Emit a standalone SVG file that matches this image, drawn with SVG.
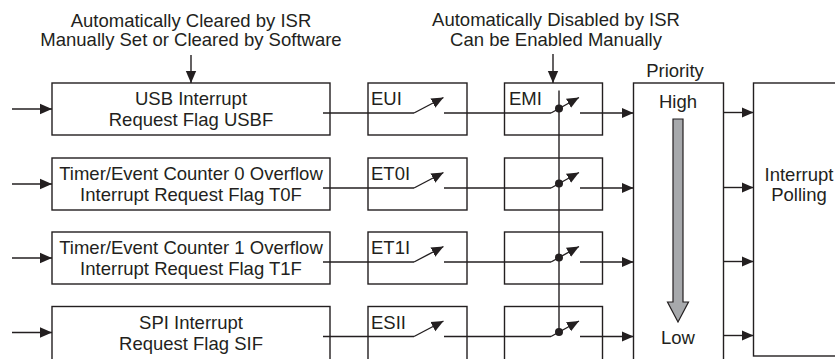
<svg xmlns="http://www.w3.org/2000/svg" width="835" height="359" viewBox="0 0 835 359">
<defs>
<marker id="ah" viewBox="0 0 12 12" refX="12" refY="6" markerWidth="12" markerHeight="12" markerUnits="userSpaceOnUse" orient="auto">
<path d="M0,0.8 L12,6 L0,11.2 Z" fill="#231f20"/>
</marker>
<style>
.b{fill:#fff;stroke:#231f20;stroke-width:1.4}
.l{fill:none;stroke:#231f20;stroke-width:1.4}
.a{fill:none;stroke:#231f20;stroke-width:1.4;marker-end:url(#ah)}
.t{font-family:"Liberation Sans",Arial,sans-serif;font-size:18.5px;fill:#231f20}
.c{text-anchor:middle}
.d{fill:#231f20}
</style>
</defs>
<rect width="835" height="359" fill="#fff"/>
<g id="note-flags">
<text class="t c" x="191" y="26.5">Automatically Cleared by ISR</text>
<text class="t c" x="191" y="46">Manually Set or Cleared by Software</text>
</g>
<g id="note-emi">
<text class="t c" x="556" y="26">Automatically Disabled by ISR</text>
<text class="t c" x="556" y="45.5">Can be Enabled Manually</text>
</g>
<g id="flag-usb">
<rect class="b" x="52" y="83" width="278" height="52"/>
<text class="t c" x="191" y="105">USB Interrupt</text>
<text class="t c" x="191" y="126">Request Flag USBF</text>
</g>
<g id="flag-t0">
<rect class="b" x="52" y="158" width="278" height="52"/>
<text class="t c" x="191" y="180">Timer/Event Counter 0 Overflow</text>
<text class="t c" x="191" y="201">Interrupt Request Flag T0F</text>
</g>
<g id="flag-t1">
<rect class="b" x="52" y="232" width="278" height="52"/>
<text class="t c" x="191" y="254">Timer/Event Counter 1 Overflow</text>
<text class="t c" x="191" y="275">Interrupt Request Flag T1F</text>
</g>
<g id="flag-spi">
<rect class="b" x="52" y="306.5" width="278" height="60"/>
<text class="t c" x="191" y="328.5">SPI Interrupt</text>
<text class="t c" x="191" y="349.5">Request Flag SIF</text>
</g>
<g id="en-eui">
<rect class="b" x="368" y="83" width="99" height="52"/>
<text class="t" x="371" y="105">EUI</text>
</g>
<g id="en-et0i">
<rect class="b" x="368" y="158" width="99" height="52"/>
<text class="t" x="371" y="180">ET0I</text>
</g>
<g id="en-et1i">
<rect class="b" x="368" y="232" width="99" height="52"/>
<text class="t" x="371" y="254">ET1I</text>
</g>
<g id="en-esii">
<rect class="b" x="368" y="306.5" width="99" height="60"/>
<text class="t" x="371" y="328.5">ESII</text>
</g>
<g id="emi-1">
<rect class="b" x="504.5" y="83" width="98" height="52"/>
<text class="t" x="509" y="105">EMI</text>
</g>
<g id="emi-2">
<rect class="b" x="504.5" y="158" width="98" height="52"/>
</g>
<g id="emi-3">
<rect class="b" x="504.5" y="232" width="98" height="52"/>
</g>
<g id="emi-4">
<rect class="b" x="504.5" y="306.5" width="98" height="60"/>
</g>
<g id="priority">
<text class="t c" x="675" y="77">Priority</text>
<rect class="b" x="633.5" y="83" width="90" height="290"/>
<text class="t c" x="678" y="108">High</text>
<polygon points="673,119 683,119 683,302 688.5,302 678,322 667.5,302 673,302" fill="#a7a9ac" stroke="#231f20" stroke-width="1.2"/>
<text class="t c" x="678" y="344">Low</text>
</g>
<g id="polling">
<rect class="b" x="753.5" y="83" width="100" height="273"/>
<text class="t c" x="799" y="181">Interrupt</text>
<text class="t c" x="799" y="201">Polling</text>
</g>
<g id="connectors">
<path class="a" d="M191,55 V83"/>
<path class="a" d="M553,54 V83"/>
<path class="a" d="M12,109 H52"/>
<path class="a" d="M12,184 H52"/>
<path class="a" d="M12,258 H52"/>
<path class="a" d="M12,332.5 H52"/>
<path class="l" d="M559,90.5 V332"/>
<g id="row1">
<path class="l" d="M323,113 H414"/>
<path class="a" d="M414,113 L443.5,97.5"/>
<path class="l" d="M444,113 H551"/>
<path class="a" d="M551,113 L579,97.5"/>
<circle class="d" cx="559" cy="108.5" r="4"/>
<path class="a" d="M580,113 H633.5"/>
</g>
<g id="row2">
<path class="l" d="M323,188 H414"/>
<path class="a" d="M414,188 L443.5,172.5"/>
<path class="l" d="M444,188 H551"/>
<path class="a" d="M551,188 L579,172.5"/>
<circle class="d" cx="559" cy="183.5" r="4"/>
<path class="a" d="M580,188 H633.5"/>
</g>
<g id="row3">
<path class="l" d="M323,262 H414"/>
<path class="a" d="M414,262 L443.5,246.5"/>
<path class="l" d="M444,262 H551"/>
<path class="a" d="M551,262 L579,246.5"/>
<circle class="d" cx="559" cy="257.5" r="4"/>
<path class="a" d="M580,262 H633.5"/>
</g>
<g id="row4">
<path class="l" d="M323,336.5 H414"/>
<path class="a" d="M414,336.5 L443.5,321"/>
<path class="l" d="M444,336.5 H551"/>
<path class="a" d="M551,336.5 L579,321"/>
<circle class="d" cx="559" cy="332" r="4"/>
<path class="a" d="M580,336.5 H633.5"/>
</g>
<path class="a" d="M723.5,112.5 H753.5"/>
<path class="a" d="M723.5,187.5 H753.5"/>
<path class="a" d="M723.5,261.5 H753.5"/>
<path class="a" d="M723.5,335.5 H753.5"/>
</g>
</svg>
